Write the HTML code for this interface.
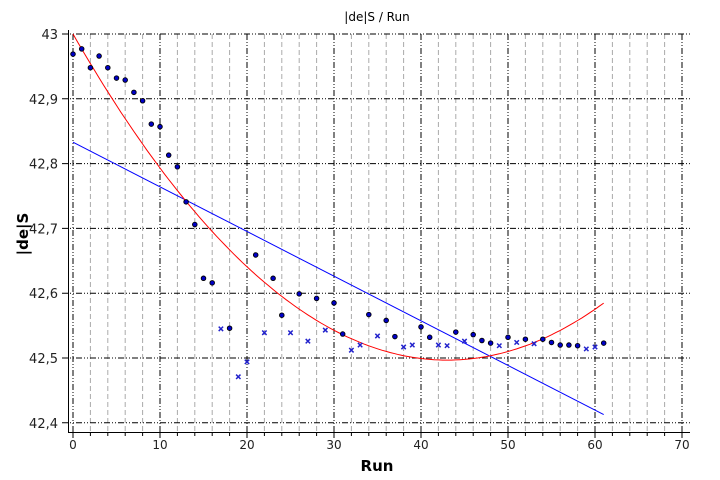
<!DOCTYPE html>
<html><head><meta charset="utf-8"><style>
body{margin:0;background:#fff;}
svg{display:block;font-family:"DejaVu Sans","Liberation Sans",sans-serif;}
</style></head><body>
<svg id="chart" width="720" height="480" xmlns="http://www.w3.org/2000/svg">
<text x="377" y="21" font-size="12" text-anchor="middle">|de|S / Run</text>
<text x="377" y="471" font-size="15" font-weight="bold" text-anchor="middle">Run</text>
<text transform="translate(28,234) rotate(-90)" font-size="15" font-weight="bold" text-anchor="middle">|de|S</text>
<g id="grid"></g>
<g id="axes"></g>
<g id="fits"></g>
<g id="marks"></g>
</svg>
<script>
const runs=[];for(let i=0;i<=61;i++)runs.push(i);
const values=[42.969,42.977,42.948,42.966,42.948,42.932,42.929,42.910,42.897,42.861,42.857,42.813,42.795,42.741,42.706,42.623,42.616,42.545,42.546,42.471,42.494,42.659,42.539,42.623,42.566,42.539,42.599,42.526,42.592,42.543,42.585,42.537,42.512,42.520,42.567,42.534,42.558,42.533,42.517,42.520,42.548,42.532,42.520,42.519,42.540,42.526,42.536,42.527,42.523,42.519,42.532,42.524,42.529,42.522,42.529,42.524,42.520,42.520,42.519,42.514,42.517,42.523];
const crossRuns=[17,19,20,22,25,27,29,32,33,35,38,39,42,43,45,49,51,53,59,60];
const xTicks=[0,10,20,30,40,50,60,70];
const yTicks=[42.4,42.5,42.6,42.7,42.8,42.9,43];
const yTickLabels=["42,4","42,5","42,6","42,7","42,8","42,9","43"];
const linFit=[42.833,-0.00689];
const quadFit=[43.0,-0.0234,0.000272];
const NS="http://www.w3.org/2000/svg";
const X=v=>73+v*8.7, Y=v=>34+(43-v)*648;
function mk(t,a,p){const e=document.createElementNS(NS,t);for(const k in a)e.setAttribute(k,a[k]);p.appendChild(e);return e;}
const grid=document.getElementById('grid'),axes=document.getElementById('axes'),fits=document.getElementById('fits'),marks=document.getElementById('marks');
for(let v=0;v<=70;v+=2){if(v%10===0)continue;const l=mk('line',{x1:X(v),x2:X(v),y1:34,y2:432,stroke:'#aaa','stroke-dasharray':'5,3','stroke-width':1},grid);

}
xTicks.forEach(v=>{const l=mk('line',{x1:X(v),x2:X(v),y1:34,y2:432,stroke:'#000','stroke-dasharray':'6,2,1,2,1,2','stroke-width':1},grid);


const t=mk('text',{x:X(v),y:449,'font-size':12,'text-anchor':'middle',fill:'#222'},axes);t.textContent=v;

});
yTicks.forEach((v,i)=>{const l=mk('line',{x1:62,x2:690,y1:Y(v),y2:Y(v),stroke:'#000','stroke-dasharray':'6,2,1,2,1,2','stroke-width':1},grid);


const t=mk('text',{x:58,y:Y(v)+5,'font-size':13,'text-anchor':'end',fill:'#222'},axes);t.textContent=yTickLabels[i];

});
mk('line',{x1:68.5,x2:68.5,y1:30,y2:432,stroke:'#000'},axes);
mk('line',{x1:68,x2:690,y1:432.5,y2:432.5,stroke:'#000'},axes);
for(let v=0;v<=70;v+=2){mk('line',{x1:X(v),x2:X(v),y1:432,y2:v%10?436:438,stroke:'#000'},axes);}
const lin=mk('line',{x1:X(0),y1:Y(linFit[0]),x2:X(61),y2:Y(linFit[0]+linFit[1]*61),stroke:'#00f','stroke-width':1},fits);


let d='';for(let i=0;i<=122;i++){const x=i/2;const v=quadFit[0]+quadFit[1]*x+quadFit[2]*x*x;d+=(i?'L':'M')+X(x).toFixed(1)+','+Y(v).toFixed(1);}
const q=mk('path',{d:d,fill:'none',stroke:'#f00','stroke-width':1},fits);


runs.forEach((r,i)=>{const x=X(r),y=Y(values[i]);let e;
if(crossRuns.includes(r)){e=mk('path',{d:`M${x-2.2},${y-2.2}L${x+2.2},${y+2.2}M${x-2.2},${y+2.2}L${x+2.2},${y-2.2}`,stroke:'#22c','stroke-width':1.5},marks);
}
else{e=mk('circle',{cx:x,cy:y,r:2.3,fill:'#0000c8',stroke:'#000','stroke-width':0.9},marks);
}
});
</script>
</body></html>
